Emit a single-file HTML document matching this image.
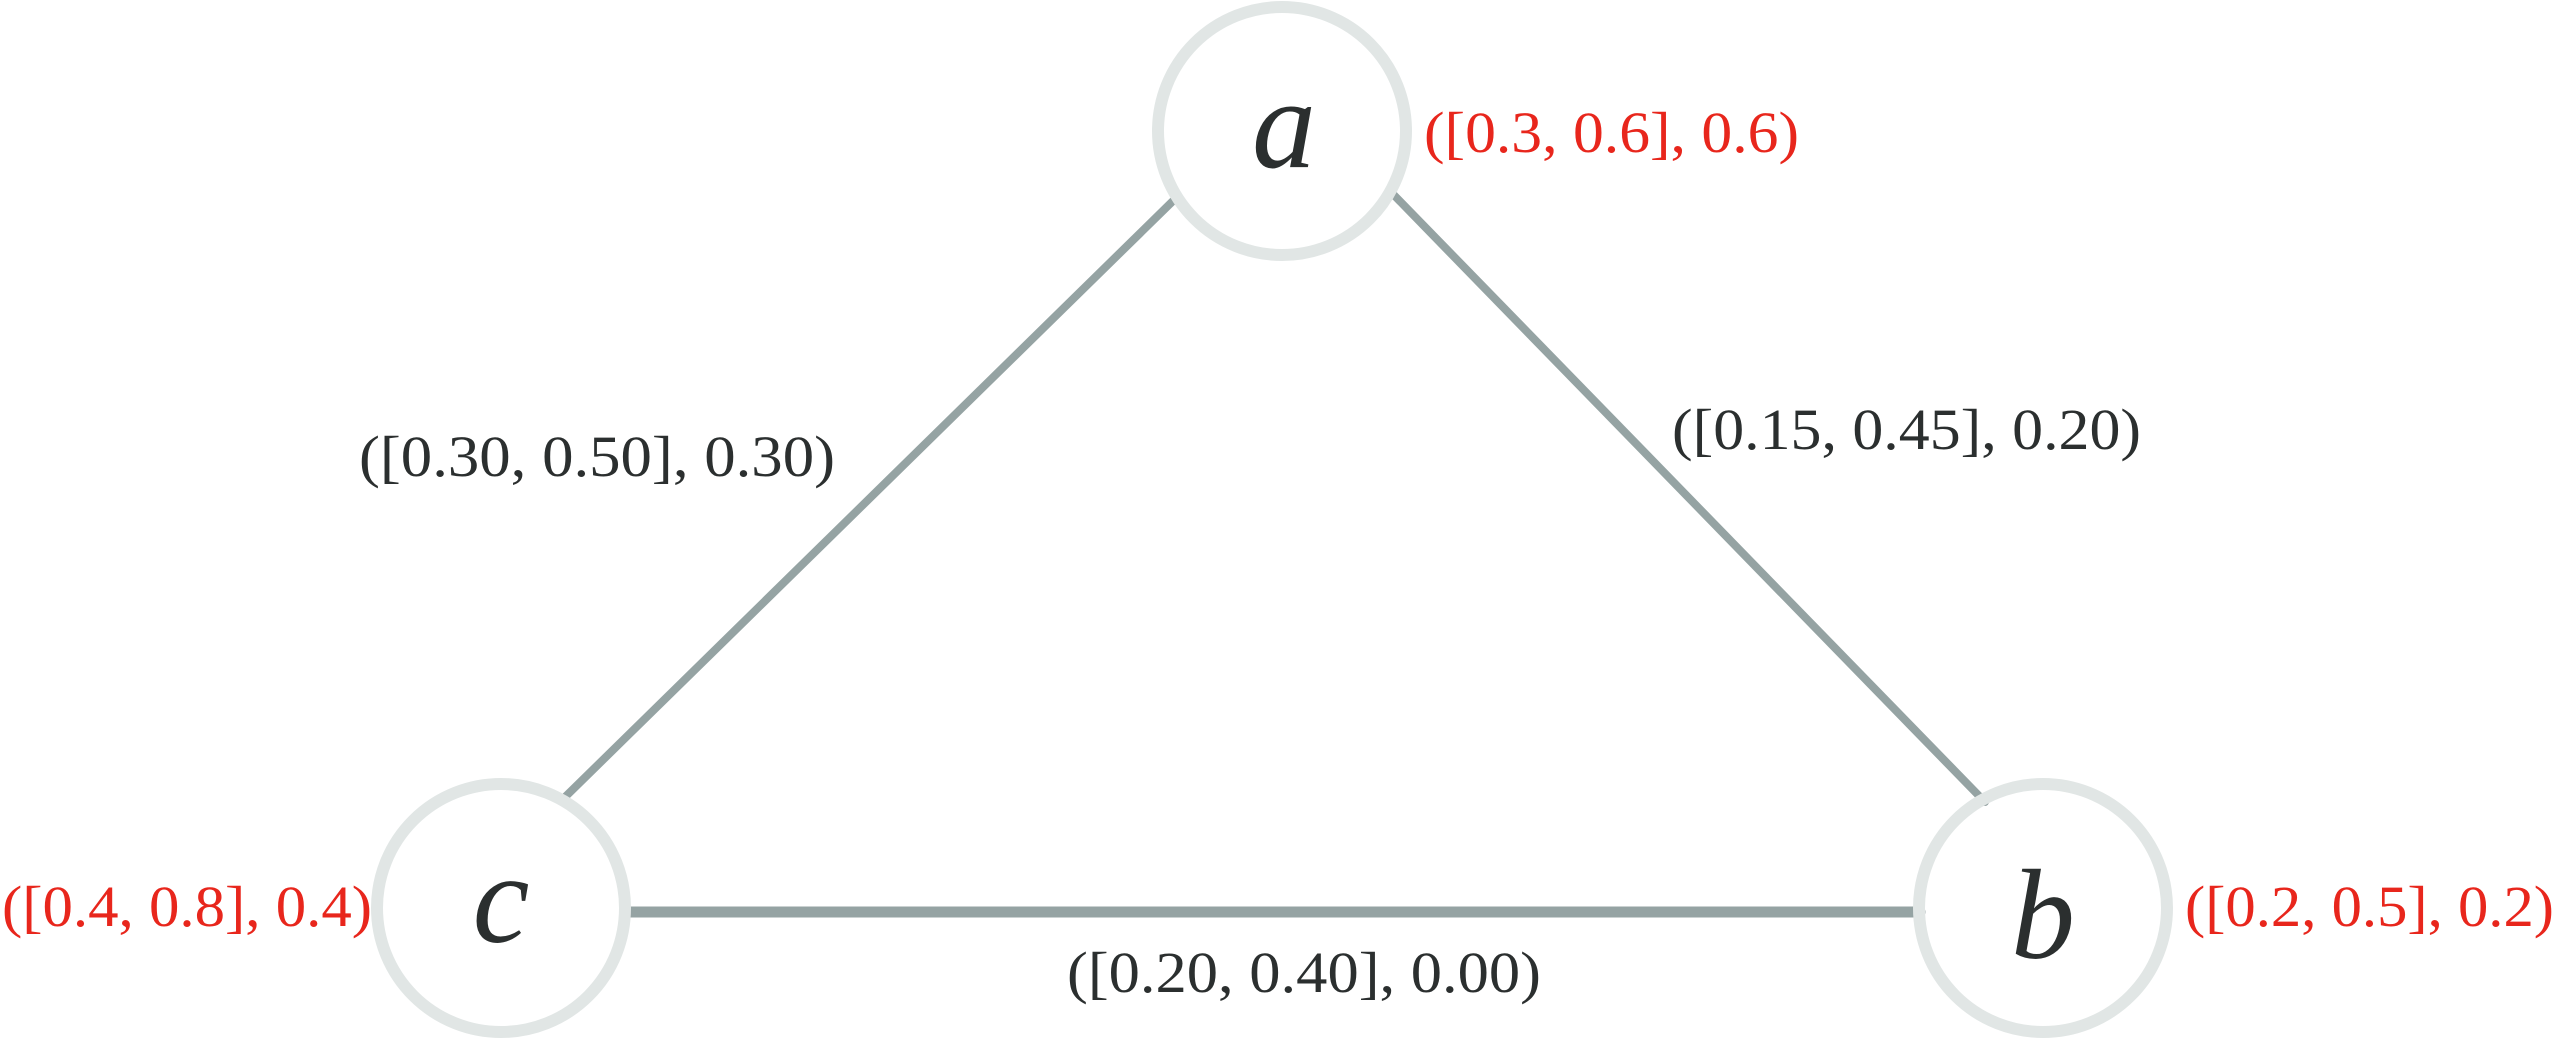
<!DOCTYPE html>
<html><head><meta charset="utf-8"><style>html,body{margin:0;padding:0;background:#fff;}svg{display:block}</style></head>
<body>
<svg width="2557" height="1044" viewBox="0 0 2557 1044" xmlns="http://www.w3.org/2000/svg">
<g stroke="#95a3a3" stroke-linecap="round">
<line x1="1178" y1="196" x2="561" y2="801" stroke-width="8"/>
<line x1="1390" y1="191" x2="1985" y2="802" stroke-width="8"/>
<line x1="625" y1="912" x2="1920" y2="912" stroke-width="11"/>
</g>
<g fill="none" stroke="#e1e6e5" stroke-width="12">
<circle cx="1282" cy="131" r="124"/>
<circle cx="501" cy="908" r="124"/>
<circle cx="2043" cy="908" r="124"/>
</g>
<g font-family="Liberation Serif, serif" font-style="italic" font-size="128" fill="#2b2f2f" text-anchor="middle">
<text x="1284" y="167">a</text>
<text x="501" y="942">c</text>
<text x="2043" y="958">b</text>
</g>
<g font-family="Liberation Serif, serif" font-size="58" fill="#e8261c">
<text x="1424" y="152" textLength="375" lengthAdjust="spacingAndGlyphs">([0.3, 0.6], 0.6)</text>
<text x="2" y="926" textLength="370" lengthAdjust="spacingAndGlyphs">([0.4, 0.8], 0.4)</text>
<text x="2185" y="926" textLength="369" lengthAdjust="spacingAndGlyphs">([0.2, 0.5], 0.2)</text>
</g>
<g font-family="Liberation Serif, serif" font-size="58" fill="#2b2f2f">
<text x="359" y="476" textLength="476" lengthAdjust="spacingAndGlyphs">([0.30, 0.50], 0.30)</text>
<text x="1672" y="449" textLength="469" lengthAdjust="spacingAndGlyphs">([0.15, 0.45], 0.20)</text>
<text x="1067" y="992" textLength="474" lengthAdjust="spacingAndGlyphs">([0.20, 0.40], 0.00)</text>
</g>
</svg>
</body></html>
